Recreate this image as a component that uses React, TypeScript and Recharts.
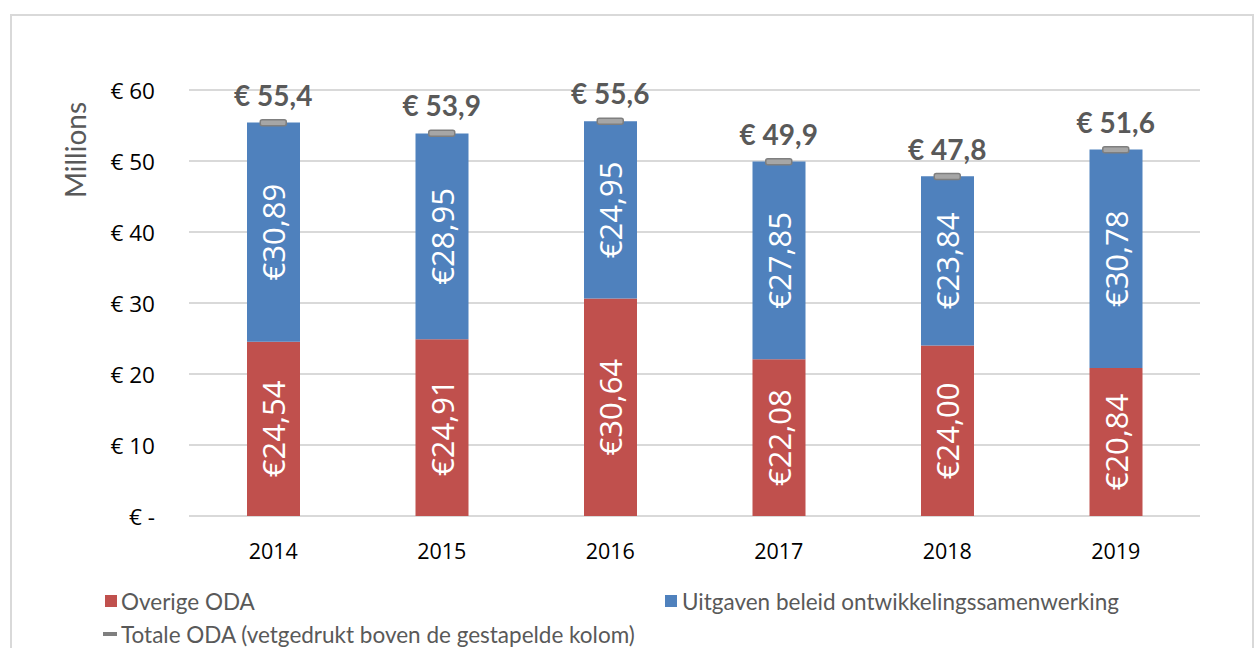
import React from 'react';
import { ComposedChart, Bar, Line, XAxis, YAxis, CartesianGrid, LabelList } from 'recharts';

const years = ['2014', '2015', '2016', '2017', '2018', '2019'];
const overigeODA = [24.54, 24.91, 30.64, 22.08, 24.0, 20.84];
const uitgavenBeleid = [30.89, 28.95, 24.95, 27.85, 23.84, 30.78];
const totaleODA = [55.4, 53.9, 55.6, 49.9, 47.8, 51.6];
const yTicks = [0, 10, 20, 30, 40, 50, 60];

const data = years.map((y, i) => ({
  year: y,
  overige: overigeODA[i],
  uitgaven: uitgavenBeleid[i],
  total: totaleODA[i],
}));

const RED = '#C0504D';
const BLUE = '#4F81BD';
const GRAY_TEXT = '#595959';
const FONT = 'Lato, "Open Sans", sans-serif';
const TICK_FONT = '"Open Sans", sans-serif';

const fmt2 = (v: number) => '€' + v.toFixed(2).replace('.', ',');
const fmt1 = (v: number) => '€ ' + v.toFixed(1).replace('.', ',');

const InBarLabel = (props: any) => {
  const { x, y, width, height, value } = props;
  const cx = x + width / 2;
  const cy = y + height / 2;
  return (
    <text
      x={cx}
      y={cy}
      transform={`rotate(-90, ${cx}, ${cy})`}
      textAnchor="middle"
      dominantBaseline="central"
      fill="#ffffff"
      fontSize={31}
      fontFamily={TICK_FONT}
    >
      {fmt2(value)}
    </text>
  );
};

const TotalDot = (props: any) => {
  const { cx, cy } = props;
  if (cx == null || cy == null) return null;
  return (
    <rect x={cx - 13} y={cy - 3} width={26} height={6} rx={2} ry={2} fill="#a6a6a6" stroke="#7f7f7f" strokeWidth={1.5} />
  );
};

const TotalLabel = (props: any) => {
  const { x, y, value } = props;
  return (
    <text x={x} y={y - 17} textAnchor="middle" fill={GRAY_TEXT} fontSize={28} fontWeight="bold" fontFamily={FONT}>
      {fmt1(value)}
    </text>
  );
};

const YTick = (props: any) => {
  const { y, payload } = props;
  const v = payload.value;
  return (
    <text x={155} y={y} textAnchor="end" dominantBaseline="central" fill="#000" fontSize={22.5} fontFamily={TICK_FONT}>
      {v === 0 ? '€ -' : '€ ' + v}
    </text>
  );
};

const XTick = (props: any) => {
  const { x, payload } = props;
  return (
    <text x={x} y={550} textAnchor="middle" dominantBaseline="central" fill="#000" fontSize={21.5} fontFamily={TICK_FONT}>
      {payload.value}
    </text>
  );
};

export default function App() {
  return (
    <div style={{ position: 'absolute', left: 0, top: 0, width: 1258, height: 648, background: '#fff', overflow: 'hidden' }}>
      <div
        style={{
          position: 'absolute',
          left: 10,
          top: 14,
          width: 1244,
          height: 660,
          border: '2px solid #d9d9d9',
          boxSizing: 'border-box',
        }}
      />
      <div style={{ position: 'absolute', left: 0, top: 0 }}>
        <ComposedChart
          width={1258}
          height={648}
          data={data}
          margin={{ top: 90, right: 58, bottom: 92, left: 0 }}
        >
          <CartesianGrid horizontal vertical={false} stroke="#d9d9d9" strokeWidth={2} />
          <XAxis dataKey="year" axisLine={false} tickLine={false} tick={<XTick />} height={40} interval={0} />
          <YAxis
            domain={[0, 60]}
            ticks={yTicks}
            axisLine={false}
            tickLine={false}
            width={189}
            tick={<YTick />}
            interval={0}
          />
          <Bar dataKey="overige" stackId="a" fill={RED} barSize={53} isAnimationActive={false}>
            <LabelList dataKey="overige" content={<InBarLabel />} />
          </Bar>
          <Bar dataKey="uitgaven" stackId="a" fill={BLUE} barSize={53} isAnimationActive={false}>
            <LabelList dataKey="uitgaven" content={<InBarLabel />} />
          </Bar>
          <Line
            dataKey="total"
            stroke="none"
            dot={<TotalDot />}
            activeDot={false}
            isAnimationActive={false}
          >
            <LabelList dataKey="total" content={<TotalLabel />} />
          </Line>
        </ComposedChart>
      </div>
      <div
        style={{
          position: 'absolute',
          left: 75,
          top: 150,
          transform: 'translate(-50%, -50%) rotate(-90deg)',
          color: GRAY_TEXT,
          fontSize: 28,
          fontFamily: FONT,
          whiteSpace: 'nowrap',
        }}
      >
        Millions
      </div>
      <div style={{ position: 'absolute', left: 105, top: 589, fontFamily: FONT, fontSize: 22.5, color: GRAY_TEXT, display: 'flex', alignItems: 'center', height: 24 }}>
        <span style={{ display: 'inline-block', width: 12, height: 12, background: RED, marginRight: 4 }} />
        <span>Overige ODA</span>
      </div>
      <div style={{ position: 'absolute', left: 665, top: 589, fontFamily: FONT, fontSize: 22.5, color: GRAY_TEXT, display: 'flex', alignItems: 'center', height: 24 }}>
        <span style={{ display: 'inline-block', width: 12, height: 12, background: BLUE, marginRight: 5 }} />
        <span>Uitgaven beleid ontwikkelingssamenwerking</span>
      </div>
      <div style={{ position: 'absolute', left: 103, top: 622, fontFamily: FONT, fontSize: 22.5, color: GRAY_TEXT, display: 'flex', alignItems: 'center', height: 24 }}>
        <span style={{ display: 'inline-block', width: 14, height: 4, background: '#7f7f7f', marginRight: 4 }} />
        <span>Totale ODA (vetgedrukt boven de gestapelde kolom)</span>
      </div>
    </div>
  );
}
